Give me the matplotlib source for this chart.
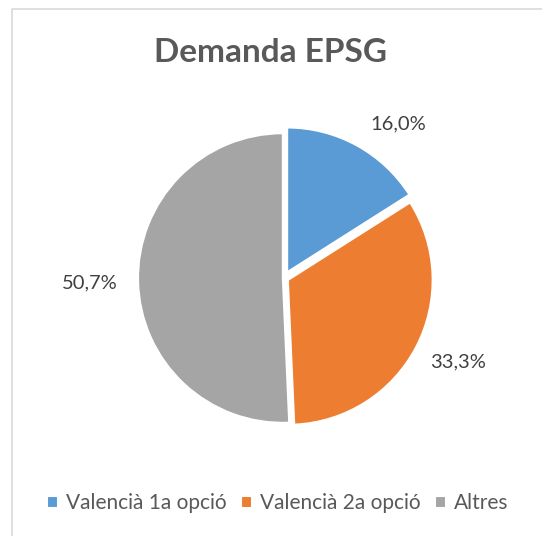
import matplotlib
matplotlib.use("Agg")
import matplotlib.pyplot as plt
from matplotlib.lines import Line2D

categories = ["Valencià 1a opció", "Valencià 2a opció", "Altres"]
values = [16.0, 33.3, 50.7]
labels = ["16,0%", "33,3%", "50,7%"]
colors = ["#5B9BD5", "#ED7D31", "#A5A5A5"]
title = "Demanda EPSG"

W, H = 542, 536
fig = plt.figure(figsize=(W / 100, H / 100), dpi=100)
plt.rcParams['font.family'] = ['Lato', 'DejaVu Sans']

# frame lines (partially visible chart border)
fig.add_artist(Line2D([12 / W, 12 / W, 1.0], [0.0, 1 - 9 / H, 1 - 9 / H],
                      transform=fig.transFigure, color="#D9D9D9", lw=1.2))

cx, cy, S = 284, 278, 362
ax = fig.add_axes([(cx - S / 2) / W, (H - cy - S / 2) / H, S / W, S / H])
wedges, _ = ax.pie(values, colors=colors, startangle=90, counterclock=False,
                   explode=[0.045, 0.03, 0.008],
                   wedgeprops=dict(edgecolor="white", linewidth=1.5))
ax.set_xlim(-1.25, 1.25)
ax.set_ylim(-1.25, 1.25)
ax.set_aspect("equal")
ax.axis("off")

def px(x, y):
    return x / W, 1 - y / H

label_pos = [(398, 124), (458, 362), (90, 283)]
for lab, (x, y) in zip(labels, label_pos):
    fig.text(*px(x, y), lab, ha="center", va="center", fontsize=14.5, color="#404040")

fig.text(*px(271, 53), title, ha="center", va="center", fontsize=24,
         fontweight="bold", color="#595959")

leg = fig.legend(wedges, categories, loc="center", bbox_to_anchor=px(278, 503),
                 ncol=3, frameon=False, fontsize=15, handlelength=0.5,
                 handleheight=0.5, handletextpad=0.4, columnspacing=0.7,
                 labelcolor="#595959")

fig.savefig("out.png", dpi=100, facecolor="white")
